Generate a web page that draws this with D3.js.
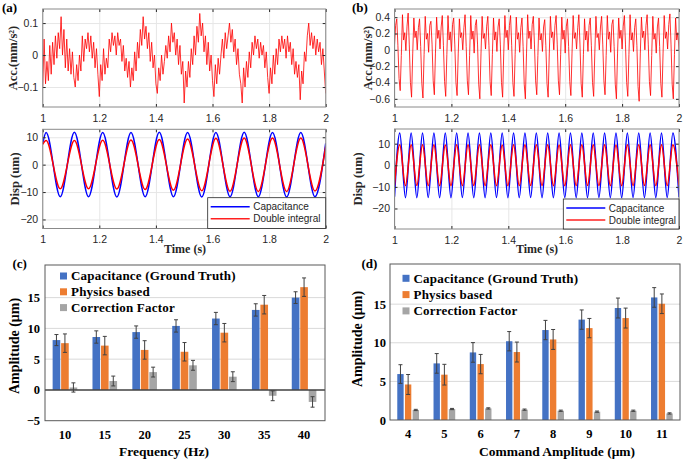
<!DOCTYPE html>
<html>
<head>
<meta charset="utf-8">
<script src="https://d3js.org/d3.v7.min.js"></script>
<style>
  body { margin: 0; background: #fff; }
  svg { display: block; }
</style>
</head>
<body>
<script>
// ---------- data ----------
const timeTicks = [1, 1.2, 1.4, 1.6, 1.8, 2];

// (a) acceleration, one sample every accAStep seconds starting at t = 1
const accAStep = 0.005;
const accA = [
  -0.10, 0.05, -0.09, -0.02, -0.08, 0.03, -0.06, 0.04, -0.03, 0.06, -0.01, 0.07, 0.02, 0.12, 0.00, 0.08, -0.04, 0.05, -0.05, 0.02,
  -0.06, 0.01, -0.07, -0.10, -0.03, -0.08, 0.00, -0.05, 0.06, -0.02, 0.05, 0.02, 0.07, 0.01, 0.06, -0.01, 0.04, -0.04, 0.02, -0.06,
  -0.13, -0.03, -0.08, 0.02, -0.06, -0.01, -0.04, 0.05, 0.01, 0.07, 0.03, 0.06, 0.00, 0.07, 0.03, 0.05, -0.02, 0.03, -0.05, -0.01,
  -0.07, -0.02, -0.10, -0.04, -0.08, 0.01, -0.05, 0.04, -0.01, 0.08, 0.03, 0.12, 0.05, 0.09, 0.02, 0.07, -0.02, 0.04, -0.04, 0.00,
  -0.09, -0.12, -0.04, -0.08, 0.00, -0.06, -0.02, 0.03, -0.01, 0.06, 0.01, 0.10, 0.04, 0.07, 0.00, 0.05, -0.03, 0.03, -0.06, -0.02,
  -0.15, -0.05, -0.10, -0.02, -0.07, 0.02, -0.03, 0.06, 0.00, 0.09, 0.04, 0.13, 0.06, 0.10, 0.01, 0.06, -0.03, 0.04, -0.05, 0.00,
  -0.08, -0.13, -0.03, -0.09, -0.01, -0.06, 0.00, 0.05, -0.01, 0.07, 0.02, 0.06, 0.10, 0.04, 0.08, 0.01, 0.05, -0.03, 0.02, -0.06,
  -0.09, -0.15, -0.04, -0.10, -0.02, -0.07, 0.01, -0.04, 0.04, 0.00, 0.06, 0.02, 0.05, -0.01, 0.04, 0.00, 0.03, -0.04, 0.01, -0.07,
  -0.12, -0.04, -0.09, 0.00, -0.06, 0.02, -0.03, 0.05, 0.01, 0.06, 0.02, 0.05, -0.01, 0.06, 0.01, 0.04, -0.03, 0.02, -0.06, -0.02,
  -0.07, -0.03, -0.14, -0.05, -0.09, 0.01, -0.02, 0.06, 0.10, 0.03, 0.07, 0.02, 0.06, 0.00, 0.05, 0.01, 0.04, -0.03, 0.02, -0.05,
  -0.12
];

// (a) displacement, peaks / troughs
const dispATime = [1.000, 1.012, 1.062, 1.112, 1.162, 1.212, 1.262, 1.312, 1.362, 1.412, 1.462,
  1.512, 1.562, 1.612, 1.662, 1.712, 1.762, 1.812, 1.862, 1.912, 1.962, 2.000];
const capA = [7.6, 11.7, -11.7, 11.8, -11.7, 11.7, -11.8, 11.7, -11.7, 11.8, -11.7,
  11.7, -11.8, 11.7, -11.7, 11.8, -11.7, 11.7, -11.8, 11.7, -11.7, 7.8];
const dblA = [7.4, 8.8, -8.8, 8.8, -8.8, 8.9, -8.9, 9.0, -9.1, 9.2, -9.3,
  9.4, -9.5, 9.6, -9.7, 9.7, -9.8, 9.7, -9.8, 9.7, -9.6, 6.6];

// (b) acceleration, one sample every accBStep seconds starting at t = 1
const accBStep = 0.004;
const accB = [
  0.06, 0.30, 0.38, 0.05, -0.35, -0.50, -0.07, 0.43, 0.12, 0.21,
  -0.01, 0.29, 0.45, 0.06, -0.40, -0.58, -0.05, 0.39, 0.15, 0.23,
  0.00, 0.27, 0.38, 0.04, -0.41, -0.59, -0.06, 0.41, 0.13, 0.20,
  -0.03, 0.30, 0.35, 0.07, -0.38, -0.55, -0.04, 0.40, 0.14, 0.24,
  0.01, 0.28, 0.42, 0.05, -0.39, -0.57, -0.06, 0.42, 0.12, 0.22,
  -0.02, 0.31, 0.39, 0.06, -0.40, -0.56, -0.05, 0.38, 0.15, 0.21,
  0.00, 0.27, 0.43, 0.04, -0.38, -0.55, -0.07, 0.42, 0.13, 0.23,
  -0.04, 0.30, 0.37, 0.06, -0.42, -0.60, -0.05, 0.41, 0.14, 0.20,
  0.01, 0.29, 0.41, 0.05, -0.39, -0.56, -0.06, 0.39, 0.12, 0.22,
  -0.02, 0.28, 0.38, 0.07, -0.40, -0.58, -0.04, 0.42, 0.15, 0.24,
  0.00, 0.30, 0.42, 0.05, -0.40, -0.57, -0.06, 0.40, 0.13, 0.21,
  -0.03, 0.27, 0.39, 0.04, -0.42, -0.60, -0.05, 0.43, 0.14, 0.23,
  0.01, 0.31, 0.41, 0.06, -0.38, -0.55, -0.07, 0.39, 0.12, 0.20,
  -0.02, 0.28, 0.37, 0.05, -0.41, -0.58, -0.05, 0.41, 0.15, 0.22,
  0.00, 0.30, 0.42, 0.07, -0.38, -0.55, -0.06, 0.40, 0.13, 0.24,
  -0.04, 0.29, 0.38, 0.04, -0.39, -0.56, -0.04, 0.42, 0.14, 0.21,
  0.01, 0.27, 0.43, 0.06, -0.41, -0.58, -0.06, 0.38, 0.12, 0.23,
  -0.02, 0.30, 0.39, 0.05, -0.40, -0.57, -0.05, 0.41, 0.15, 0.20,
  0.00, 0.28, 0.41, 0.07, -0.38, -0.55, -0.07, 0.42, 0.13, 0.22,
  -0.03, 0.31, 0.37, 0.04, -0.42, -0.60, -0.04, 0.39, 0.14, 0.24,
  0.01, 0.29, 0.42, 0.06, -0.40, -0.57, -0.06, 0.43, 0.12, 0.21,
  -0.02, 0.27, 0.38, 0.05, -0.45, -0.63, -0.05, 0.40, 0.15, 0.23,
  0.00, 0.30, 0.43, 0.07, -0.39, -0.56, -0.07, 0.41, 0.13, 0.20,
  -0.04, 0.28, 0.39, 0.04, -0.41, -0.58, -0.04, 0.42, 0.14, 0.22,
  0.01, 0.31, 0.44, 0.06, -0.42, -0.60, -0.06, 0.39, 0.12, 0.21,
  0.00
];

// (b) displacement, peaks / troughs
const dispBTime = [1.000, 1.0185, 1.0385, 1.0585, 1.0785, 1.0985, 1.1185, 1.1385, 1.1585, 1.1785,
  1.1985, 1.2185, 1.2385, 1.2585, 1.2785, 1.2985, 1.3185, 1.3385, 1.3585, 1.3785,
  1.3985, 1.4185, 1.4385, 1.4585, 1.4785, 1.4985, 1.5185, 1.5385, 1.5585, 1.5785,
  1.5985, 1.6185, 1.6385, 1.6585, 1.6785, 1.6985, 1.7185, 1.7385, 1.7585, 1.7785,
  1.7985, 1.8185, 1.8385, 1.8585, 1.8785, 1.8985, 1.9185, 1.9385, 1.9585, 1.9785, 2.000];
const capB = [-14.6, 15.0, -15.0, 14.9, -15.0, 15.0, -14.9, 15.0, -15.0, 14.9,
  -15.0, 15.0, -14.9, 15.0, -15.0, 14.9, -15.0, 15.0, -14.9, 15.0,
  -15.0, 14.9, -15.0, 15.0, -14.9, 15.0, -15.0, 14.9, -15.0, 15.0,
  -14.9, 15.0, -15.0, 14.9, -15.0, 15.0, -14.9, 15.0, -15.0, 14.9,
  -15.0, 15.0, -14.9, 15.0, -15.0, 14.9, -15.0, 15.0, -14.9, 15.0, -14.8];
const dblB = [-9.3, 9.5, -9.5, 9.5, -9.4, 9.5, -9.5, 9.5, -9.5, 9.4,
  -9.5, 9.5, -9.5, 9.5, -9.4, 9.5, -9.5, 9.5, -9.5, 9.4,
  -9.5, 9.5, -9.5, 9.5, -9.4, 9.5, -9.5, 9.5, -9.5, 9.4,
  -9.5, 9.5, -9.5, 9.5, -9.4, 9.5, -9.5, 9.5, -9.5, 9.4,
  -9.5, 9.5, -9.5, 9.5, -9.4, 9.5, -9.5, 9.5, -9.5, 9.5, -9.4];

// (c) amplitude vs frequency
const seriesNames = ["Capacitance (Ground Truth)", "Physics based", "Correction Factor"];
const seriesColors = ["#4472C4", "#ED7D31", "#A5A5A5"];
const freqLabels = ["10", "15", "20", "25", "30", "35", "40"];
const capC = [8.1, 8.6, 9.4, 10.4, 11.6, 13.0, 15.0];
const capCErr = [0.9, 1.0, 1.0, 1.0, 1.0, 1.0, 0.95];
const physC = [7.6, 7.2, 6.5, 6.2, 9.3, 13.85, 16.7];
const physCErr = [1.5, 1.5, 1.5, 1.5, 1.5, 1.5, 1.5];
const corrC = [0.4, 1.45, 2.9, 4.0, 2.15, -0.95, -1.95];
const corrCErr = [0.75, 0.8, 0.8, 0.8, 0.8, 0.8, 0.85];
const ampTicksC = [-5, 0, 5, 10, 15];

// (d) amplitude vs command amplitude
const cmdLabels = ["4", "5", "6", "7", "8", "9", "10", "11"];
const capD = [5.95, 7.33, 8.75, 10.2, 11.65, 13.0, 14.5, 15.87];
const capDErr = [1.21, 1.27, 1.27, 1.25, 1.25, 1.25, 1.29, 1.27];
const physD = [4.6, 5.87, 7.24, 8.8, 10.43, 11.9, 13.2, 15.05];
const physDErr = [1.29, 1.34, 1.25, 1.29, 1.29, 1.25, 1.29, 1.27];
const corrD = [1.3, 1.42, 1.5, 1.34, 1.2, 1.08, 1.2, 0.85];
const corrDErr = [0.08, 0.08, 0.08, 0.08, 0.08, 0.08, 0.08, 0.08];
const ampTicksD = [0, 5, 10, 15];

// ---------- drawing ----------
const serif = '"Liberation Serif", "Times New Roman", serif';
const sans = '"Liberation Sans", Arial, sans-serif';

let svg = d3.select("body").append("svg").attr("width", 685).attr("height", 459);
svg.append("rect").attr("width", 685).attr("height", 459).attr("fill", "#fff");

let clipCount = 0;

function timePanel(o) {
  let x = d3.scaleLinear().domain([1, 2]).range([o.left, o.right]);
  let y = d3.scaleLinear().domain(o.yDomain).range([o.bottom, o.top]);
  let h = o.bottom - o.top, w = o.right - o.left;
  let g = svg.append("g");

  // grid
  g.append("g")
    .attr("transform", "translate(0," + o.bottom + ")")
    .call(d3.axisBottom(x).tickValues(timeTicks).tickSize(-h).tickFormat(""))
    .call(s => s.select(".domain").remove())
    .selectAll("line").attr("stroke", "#e6e6e6");
  g.append("g")
    .attr("transform", "translate(" + o.left + ",0)")
    .call(d3.axisLeft(y).tickValues(o.yTicks).tickSize(-w).tickFormat(""))
    .call(s => s.select(".domain").remove())
    .selectAll("line").attr("stroke", "#e6e6e6");

  // curves
  let id = "clip" + clipCount++;
  svg.append("clipPath").attr("id", id).append("rect")
    .attr("x", o.left).attr("y", o.top).attr("width", w).attr("height", h);
  o.lines.forEach(function (l) {
    let line = d3.line().x(d => x(d[0])).y(d => y(d[1])).curve(l.curve || d3.curveLinear);
    g.append("path")
      .datum(l.points)
      .attr("clip-path", "url(#" + id + ")")
      .attr("fill", "none")
      .attr("stroke", l.color)
      .attr("stroke-width", l.width)
      .attr("stroke-linejoin", "round")
      .attr("opacity", l.opacity || 1)
      .attr("d", line);
  });

  // axes with MATLAB-like inner ticks
  let xa = g.append("g")
    .attr("transform", "translate(0," + o.bottom + ")")
    .call(d3.axisBottom(x).tickValues(timeTicks).tickSize(-3).tickPadding(o.xPad).tickFormat(d3.format("")));
  let ya = g.append("g")
    .attr("transform", "translate(" + o.left + ",0)")
    .call(d3.axisLeft(y).tickValues(o.yTicks).tickSize(-3).tickPadding(4.5).tickFormat(d => d3.format("")(d).replace("-", "-")));
  g.append("g").attr("transform", "translate(0," + o.top + ")")
    .call(d3.axisTop(x).tickValues(timeTicks).tickSize(-3).tickFormat(""));
  g.append("g").attr("transform", "translate(" + o.right + ",0)")
    .call(d3.axisRight(y).tickValues(o.yTicks).tickSize(-3).tickFormat(""));
  g.selectAll(".domain").remove();
  g.selectAll(".tick line").filter(function () { return this.getAttribute("stroke") !== "#e6e6e6"; })
    .attr("stroke", "#262626");
  g.selectAll(".tick text").attr("font-family", sans).attr("font-size", 10.5).attr("fill", "#262626");

  g.append("rect")
    .attr("x", o.left).attr("y", o.top).attr("width", w).attr("height", h)
    .attr("fill", "none").attr("stroke", "#8a8a8a").attr("stroke-width", 1);

  // y label
  g.append("text")
    .attr("transform", "translate(" + o.yLabelX + "," + ((o.top + o.bottom) / 2) + ") rotate(-90)")
    .attr("text-anchor", "middle")
    .attr("dy", "0.35em")
    .attr("font-family", serif).attr("font-weight", "bold").attr("font-size", 12.5)
    .attr("fill", "#262626")
    .text(o.yLabel);

  // legend
  if (o.legend) {
    let lg = g.append("g");
    lg.append("rect")
      .attr("x", o.legend.x).attr("y", o.legend.y)
      .attr("width", o.right - o.legend.x).attr("height", o.bottom - o.legend.y)
      .attr("fill", "#fff").attr("stroke", "#262626").attr("stroke-width", 0.8);
    o.legend.items.forEach(function (it, i) {
      let ly = o.legend.y + 9 + i * 12;
      lg.append("line")
        .attr("x1", o.legend.x + 3).attr("x2", o.legend.x + 42)
        .attr("y1", ly).attr("y2", ly)
        .attr("stroke", it.color).attr("stroke-width", 1.5);
      lg.append("text")
        .attr("x", o.legend.x + 45.5).attr("y", ly).attr("dy", "0.36em")
        .attr("font-family", sans).attr("font-size", 10).attr("fill", "#262626")
        .text(it.name);
    });
  }
  return { x, y };
}

// (a) top
timePanel({
  left: 42.7, right: 325.7, top: 9, bottom: 107,
  yDomain: [-0.1625, 0.144], yTicks: [-0.1, 0, 0.1], xPad: 8,
  yLabel: "Acc.(mm/s²)", yLabelX: 12.5,
  lines: [{ points: accA.map((v, i) => [1 + i * accAStep, v]), color: "#ff0000", width: 0.9, opacity: 0.9 }]
});
// (a) bottom
timePanel({
  left: 42.7, right: 325.7, top: 129.3, bottom: 228.5,
  yDomain: [-23.3, 12.9], yTicks: [-20, -10, 0, 10], xPad: 7.3,
  yLabel: "Disp (um)", yLabelX: 15,
  lines: [
    { points: dispATime.map((t, i) => [t, capA[i]]), color: "#0000ff", width: 1.5, curve: d3.curveMonotoneX },
    { points: dispATime.map((t, i) => [t, dblA[i]]), color: "#ff0000", width: 1.5, curve: d3.curveMonotoneX }
  ],
  legend: { x: 207.7, y: 197.7, items: [{ name: "Capacitance", color: "#0000ff" }, { name: "Double integral", color: "#ff2020" }] }
});
// (b) top
timePanel({
  left: 394.5, right: 679, top: 9, bottom: 107,
  yDomain: [-0.7, 0.5], yTicks: [-0.6, -0.4, -0.2, 0, 0.2, 0.4], xPad: 8,
  yLabel: "Acc.(mm/s²)", yLabelX: 368,
  lines: [{ points: accB.map((v, i) => [1 + i * accBStep, v]), color: "#ff0000", width: 0.9, opacity: 0.9 }]
});
// (b) bottom
timePanel({
  left: 394.5, right: 679, top: 129, bottom: 229,
  yDomain: [-29.5, 16.8], yTicks: [-20, -10, 0, 10], xPad: 7.5,
  yLabel: "Disp (um)", yLabelX: 358,
  lines: [
    { points: dispBTime.map((t, i) => [t, capB[i]]), color: "#0000ff", width: 1.5, curve: d3.curveMonotoneX },
    { points: dispBTime.map((t, i) => [t, dblB[i]]), color: "#ff0000", width: 1.5, curve: d3.curveMonotoneX }
  ],
  legend: { x: 563.3, y: 199, items: [{ name: "Capacitance", color: "#0000ff" }, { name: "Double integral", color: "#ff2020" }] }
});

// time labels
[[185, 253], [537, 253]].forEach(function (p) {
  svg.append("text").attr("x", p[0]).attr("y", p[1])
    .attr("text-anchor", "middle")
    .attr("font-family", serif).attr("font-weight", "bold").attr("font-size", 12)
    .attr("fill", "#262626").text("Time (s)");
});

function barPanel(o) {
  let x0 = d3.scaleBand().domain(o.cats).range([o.left, o.bandRight]);
  let x1 = d3.scaleBand().domain([0, 1, 2]).range([-o.groupW / 2, o.groupW / 2]).paddingInner(o.barPad);
  let y = d3.scaleLinear().domain(o.yDomain).range([o.bottom, o.top]);
  let g = svg.append("g");

  g.selectAll(".grid").data(o.grid).enter().append("line")
    .attr("x1", o.left).attr("x2", o.right)
    .attr("y1", d => y(d)).attr("y2", d => y(d))
    .attr("stroke", "#d9d9d9").attr("stroke-width", 1);

  o.series.forEach(function (s, si) {
    let cx = (d, i) => x0(o.cats[i]) + x0.bandwidth() / 2 + x1(si);
    g.selectAll(".bar" + si).data(s.values).enter().append("rect")
      .attr("x", (d, i) => cx(d, i))
      .attr("width", x1.bandwidth())
      .attr("y", d => Math.min(y(d), y(0)))
      .attr("height", d => Math.abs(y(d) - y(0)))
      .attr("fill", seriesColors[si]);
    let mid = (d, i) => cx(d, i) + x1.bandwidth() / 2;
    let eb = g.selectAll(".err" + si).data(s.values).enter().append("g");
    eb.append("line")
      .attr("x1", mid).attr("x2", mid)
      .attr("y1", (d, i) => y(d - s.err[i])).attr("y2", (d, i) => y(d + s.err[i]))
      .attr("stroke", "#404040").attr("stroke-width", 1);
    [-1, 1].forEach(function (sign) {
      eb.append("line")
        .attr("x1", (d, i) => mid(d, i) - 2).attr("x2", (d, i) => mid(d, i) + 2)
        .attr("y1", (d, i) => y(d + sign * s.err[i])).attr("y2", (d, i) => y(d + sign * s.err[i]))
        .attr("stroke", "#404040").attr("stroke-width", 1);
    });
  });

  if (o.zeroLine) {
    g.append("line").attr("x1", o.left).attr("x2", o.right)
      .attr("y1", y(0)).attr("y2", y(0))
      .attr("stroke", "#404040").attr("stroke-width", 1.5);
  }

  g.append("rect")
    .attr("x", o.left).attr("y", o.top).attr("width", o.right - o.left).attr("height", o.bottom - o.top)
    .attr("fill", "none").attr("stroke", "#595959").attr("stroke-width", 1);

  // axes
  let ya = g.append("g").attr("transform", "translate(" + o.left + ",0)")
    .call(d3.axisLeft(y).tickValues(o.yTicks).tickSize(0).tickPadding(o.yPad));
  let xa = g.append("g").attr("transform", "translate(0," + o.bottom + ")")
    .call(d3.axisBottom(x0).tickSize(0).tickPadding(9));
  g.selectAll(".domain").remove();
  g.selectAll(".tick text").attr("font-family", serif).attr("font-weight", "bold")
    .attr("font-size", 12.5).attr("fill", "#000");

  // titles
  g.append("text")
    .attr("transform", "translate(" + o.yLabelX + "," + o.yLabelY + ") rotate(-90)")
    .attr("text-anchor", "middle").attr("dy", "0.35em")
    .attr("font-family", serif).attr("font-weight", "bold").attr("font-size", 14)
    .text("Amplitude (μm)");
  g.append("text")
    .attr("x", o.xLabelX).attr("y", 456)
    .attr("text-anchor", "middle")
    .attr("font-family", serif).attr("font-weight", "bold").attr("font-size", 13.5)
    .text(o.xLabel);

  // legend
  seriesNames.forEach(function (n, i) {
    let ly = o.legendY + i * o.legendStep;
    g.append("rect").attr("x", o.legendX - 11).attr("y", ly - 3.5)
      .attr("width", 7).attr("height", 7).attr("fill", seriesColors[i]);
    g.append("text").attr("x", o.legendX).attr("y", ly).attr("dy", "0.34em")
      .attr("font-family", serif).attr("font-weight", "bold").attr("font-size", 13)
      .attr("letter-spacing", 0.2)
      .text(n);
  });
}

barPanel({
  cats: freqLabels, left: 45, right: 325, bandRight: 324, top: 265, bottom: 420.7,
  yDomain: [-5, 20.3], yTicks: ampTicksC, grid: [5, 10, 15], zeroLine: true,
  groupW: 24.6, barPad: 0.1, yPad: 5,
  series: [{ values: capC, err: capCErr }, { values: physC, err: physCErr }, { values: corrC, err: corrCErr }],
  yLabelX: 14, yLabelY: 346, xLabelX: 164, xLabel: "Frequency (Hz)",
  legendX: 71, legendY: 276, legendStep: 15.8
});

barPanel({
  cats: cmdLabels, left: 390, right: 680, bandRight: 680, top: 264, bottom: 420,
  yDomain: [0, 20.2], yTicks: ampTicksD, grid: [5, 10, 15], zeroLine: false,
  groupW: 21.7, barPad: 0.17, yPad: 4,
  series: [{ values: capD, err: capDErr }, { values: physD, err: physDErr }, { values: corrD, err: corrDErr }],
  yLabelX: 357, yLabelY: 339, xLabelX: 557, xLabel: "Command Amplitude (μm)",
  legendX: 413.5, legendY: 278.3, legendStep: 16.3
});

// panel letters
[["(a)", 2, 12], ["(b)", 352, 12], ["(c)", 12.5, 268], ["(d)", 361.5, 268]].forEach(function (p) {
  svg.append("text").attr("x", p[1]).attr("y", p[2])
    .attr("font-family", serif).attr("font-weight", "bold").attr("font-size", 13)
    .text(p[0]);
});
</script>
</body>
</html>
